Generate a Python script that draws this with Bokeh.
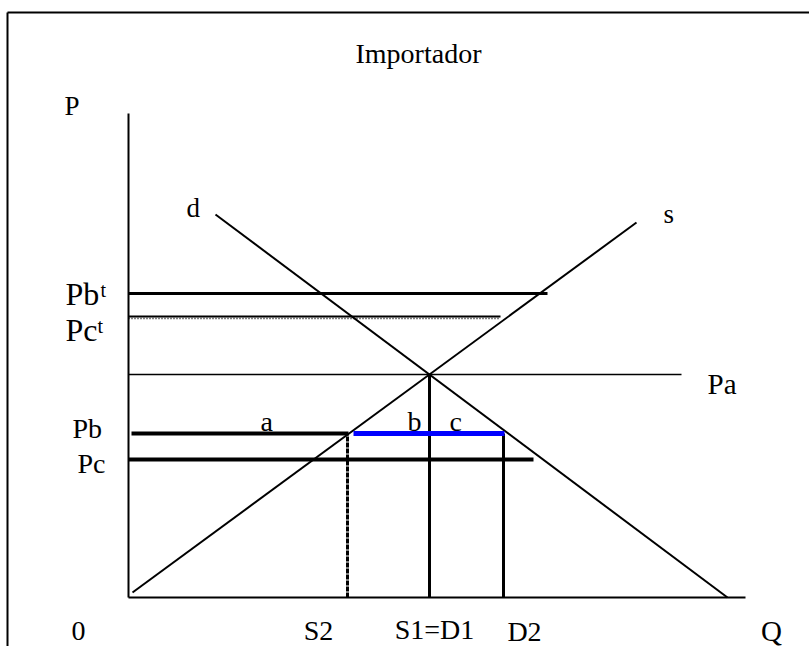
from bokeh.plotting import figure
from bokeh.models import Range1d
from bokeh.core.properties import value
from bokeh.embed import file_html
from bokeh.resources import INLINE

# ---- data (abstract economic units) ----
q_labels = ["S2", "S1=D1", "D2"]
q_values = [21.9, 30.1, 37.5]
Pa, Pb, Pc, Pbt, Pct = 22.3, 16.4, 13.8, 30.4, 28.1
S2, S1, D2 = q_values
supply_q = [0.4, 50.8]
supply_p = [0.5, 37.5]
demand_q = [8.7, 59.9]
demand_p = [38.3, 0.0]
q_max = 61.7
p_max = 48.4

FONT = value("Liberation Serif")

p = figure(width=809, height=646, x_range=Range1d(-12.8, 68.1), y_range=Range1d(-4.9, 59.7),
           output_backend="svg", toolbar_location=None, min_border=0)
p.axis.visible = False
p.grid.visible = False
p.outline_line_color = None
p.background_fill_color = "white"

# frame
p.line([-12.1, 68.1], [58.5, 58.5], line_color="black", line_width=2)
p.line([-12.1, -12.1], [58.5, -4.9], line_color="black", line_width=2)

# axes
p.line([0, 0], [0, p_max], line_color="black", line_width=2)
p.line([0, q_max], [0, 0], line_color="black", line_width=2)

# supply & demand
p.line(supply_q, supply_p, line_color="black", line_width=2)
p.line(demand_q, demand_p, line_color="black", line_width=2)

# price lines
p.line([0, 55.3], [Pa, Pa], line_color="black", line_width=1.5)
p.line([0, 41.9], [Pbt, Pbt], line_color="black", line_width=3)
p.line([0, 37.2], [Pct, Pct], line_color="black", line_width=2)
p.line([0, 37.2], [Pct - 0.2, Pct - 0.2], line_color="black", line_width=1.5, line_dash="1 2")
p.line([0.3, 22.0], [Pb, Pb], line_color="black", line_width=4)
p.line([0, 40.5], [Pc, Pc], line_color="black", line_width=4)

# quantity verticals
p.line([S2, S2], [0, Pb], line_color="black", line_width=3, line_dash="5 1")
p.line([S1, S1], [0, Pa], line_color="black", line_width=3)
p.line([D2, D2], [0, Pb], line_color="black", line_width=3)

# imports segment
p.line([22.5, 37.6], [Pb, Pb], line_color="#0000ff", line_width=5)

def txt(x, y, s, size="27px", align="left"):
    p.text(x=[x], y=[y], text=[s], text_font=FONT, text_font_size=size,
           text_align=align, text_baseline="middle", text_color="black")

txt(29.0, 54.4, "Importador", size="28px", align="center")
txt(-6.4, 49.2, "P")
txt(5.8, 39.0, "d")
txt(53.5, 38.4, "s")
txt(-6.3, Pbt, "Pb", size="32px")
txt(-2.8, Pbt + 0.4, "t", size="20px")
txt(-6.3, 26.8, "Pc", size="32px")
txt(-3.1, 27.2, "t", size="20px")
txt(57.9, 21.4, "Pa", size="29px")
txt(-5.6, 16.9, "Pb", size="28px")
txt(-5.1, 13.4, "Pc", size="28px")
txt(13.2, 17.6, "a", size="28px")
txt(27.9, 17.6, "b", size="28px")
txt(32.1, 17.6, "c", size="28px")

txt(-5.0, -3.3, "0", size="28px", align="center")
txt(19.0, -3.3, q_labels[0], size="28px", align="center")
txt(30.6, -3.2, q_labels[1], size="28px", align="center")
txt(39.6, -3.35, q_labels[2], size="28px", align="center")
txt(64.3, -3.3, "Q", size="29px", align="center")

open("out.html", "w").write(file_html(p, INLINE))
